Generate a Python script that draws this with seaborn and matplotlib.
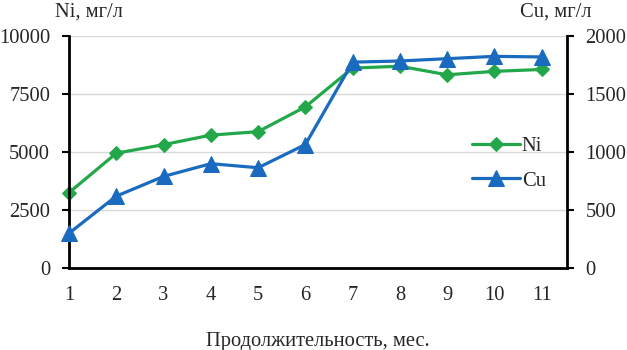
import matplotlib
matplotlib.use("Agg")
import matplotlib.pyplot as plt
import seaborn as sns
import pandas as pd

sns.set_style("white")
plt.rcParams["font.family"] = ["Liberation Serif", "DejaVu Serif"]

# === Data ===
months = [1, 2, 3, 4, 5, 6, 7, 8, 9, 10, 11]
ni_values = [3250, 4950, 5320, 5730, 5880, 6950, 8620, 8700, 8330, 8480, 8560]
cu_values = [300, 620, 790, 900, 865, 1065, 1775, 1785, 1805, 1825, 1820]

ni_ticks = [0, 2500, 5000, 7500, 10000]
cu_ticks = [0, 500, 1000, 1500, 2000]

df = pd.DataFrame({"month": months, "Ni": ni_values, "Cu": cu_values})

green = "#22a84a"
blue = "#1a6bbf"
fs = 14.8

fig = plt.figure(figsize=(6.27, 3.5), dpi=100)
ax = fig.add_axes([0.110, 0.234, 0.794, 0.663])
ax2 = ax.twinx()

sns.lineplot(data=df, x="month", y="Ni", ax=ax, color=green, linewidth=2.3,
             marker="D", markersize=7.5, markeredgecolor=green, label="Ni",
             clip_on=False, legend=False)
sns.lineplot(data=df, x="month", y="Cu", ax=ax2, color=blue, linewidth=2.3,
             marker="^", markersize=11, markeredgecolor=blue, label="Cu",
             clip_on=False, legend=False)

ax.set_xlim(1, 11.53)
ax.set_ylim(0, 10000)
ax2.set_ylim(0, 2000)
ax.set_xticks(months)
ax.set_yticks(ni_ticks)
ax2.set_yticks(cu_ticks)

ax.yaxis.grid(True, color="#d9d9d9", linewidth=1)
ax.set_axisbelow(True)

for a in (ax, ax2):
    for s in a.spines.values():
        s.set_visible(False)
    a.tick_params(labelsize=fs, length=5, width=1.5, color="black", direction="out")
ax.spines["left"].set_visible(True)
ax.spines["bottom"].set_visible(True)
ax2.spines["right"].set_visible(True)
for s in (ax.spines["left"], ax.spines["bottom"], ax2.spines["right"]):
    s.set_color("black")
    s.set_linewidth(2)
ax.tick_params(axis="x", pad=8)
ax.tick_params(axis="y", pad=8.5)
ax2.tick_params(axis="y", pad=8.5)

ax.set_xlabel("Продолжительность, мес.", fontsize=fs, labelpad=19)
ax.set_ylabel("")
ax2.set_ylabel("")
fig.text(0.088, 0.965, "Ni, мг/л", fontsize=fs, ha="left", va="center")
fig.text(0.829, 0.965, "Cu, мг/л", fontsize=fs, ha="left", va="center")

handles = ax.get_lines()[:1] + ax2.get_lines()[:1]
fig.legend(handles, ["Ni", "Cu"], loc="center left",
           bbox_to_anchor=(0.737, 0.532), frameon=False, fontsize=fs,
           handlelength=2.3, handletextpad=0.1, labelspacing=0.72,
           borderpad=0)

plt.savefig("out.png", dpi=100)
